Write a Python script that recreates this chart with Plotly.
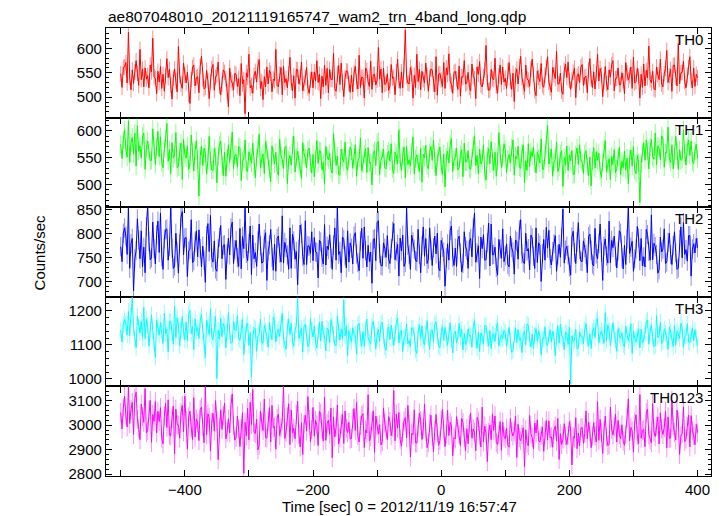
import plotly.graph_objects as go
from plotly.subplots import make_subplots

TITLE = "ae807048010_20121119165747_wam2_trn_4band_long.qdp"
X_TITLE = "Time [sec] 0 = 2012/11/19 16:57:47"
Y_TITLE = "Counts/sec"
PANEL_NAMES = ["TH0", "TH1", "TH2", "TH3", "TH0123"]
X_TICKS = [-500, -400, -300, -200, -100, 0, 100, 200, 300, 400]
X_TICK_LABELS = ["", "\u2212400", "", "\u2212200", "", "0", "", "200", "", "400"]

# bin start times (s), 2 s bins
TIME = list(range(-500, 401, 2))

TH0 = [int(v) for v in """
548 520 561 562 571 529 633 541 515 556 528 552 575 549 524 598 536 558 521 560 537 544 519 566 552 621 542 538 507 553
531 563 518 547 512 544 579 540 557 525 496 539 558 533 511 604 545 527 518 570 546 529 551 506 487 536 561 566 523 540
542 509 563 584 538 517 520 555 534 497 531 559 567 514 541 546 572 522 505 527 556 551 538 512 480 560 535 529 515 549
547 522 538 503 569 527 536 466 550 541 588 519 524 508 545 553 531 563 577 518 532 495 542 521 562 527 555 549 511 537
534 598 524 521 547 561 505 563 530 538 519 548 582 530 513 544 498 557 556 527 540 572 513 528 540 561 519 508 535 552
519 552 533 575 530 547 497 543 521 566 524 559 509 557 536 536 590 518 512 548 565 526 570 531 501 539 554 553 528 510
545 511 549 563 532 517 586 520 541 540 498 560 555 531 522 574 516 546 547 525 535 602 537 558 509 559 526 528 548 514
523 567 539 541 505 552 578 534 518 552 519 563 638 543 529 527 561 548 498 545 520 588 532 557 515 553 536 529 570 544
512 540 558 556 527 511 583 504 547 549 535 522 571 518 560 546 589 533 526 508 551 553 537 516 564 502 542 541 575 527
529 551 520 513 568 543 538 497 562 547 573 525 521 542 555 606 530 514 515 557 538 536 580 523 508 544 566 526 562 531
539 518 554 571 533 516 549 491 545 558 527 563 584 541 521 512 566 537 535 522 558 578 547 513 503 554 540 532 569 524
520 545 561 583 531 519 510 561 546 538 594 527 527 549 512 506 555 568 540 572 534 516 535 551 560 499 543 548 530 562
567 524 541 543 509 556 579 537 520 552 517 548 588 533 559 546 501 532 563 528 515 556 541 567 575 513 538 539 560 525
526 550 534 507 571 549 535 544 562 518 582 529 532 559 543 498 547 520 568 523 555 540 605 536 529 553 517 515 562 546
536 578 527 521 548 559 596 530 544 557 512 565 566 541 523 610 527 550 551 574 532 519 545 561 583 534 519 560 522 547
540
""".split()]

TH1 = [int(v) for v in """
575 548 583 602 566 551 619 541 578 588 557 596 534 610 562 572 549 590 596 528 567 581 563 544 545 604 571 537 570 599
552 589 540 531 567 585 614 543 565 520 578 549 556 597 531 533 561 577 509 584 556 549 572 528 538 592 560 525 563 582
546 478 553 571 535 568 558 519 545 590 544 527 526 567 552 503 553 574 581 537 516 560 515 548 574 541 563 598 529 555
556 532 571 569 507 543 548 583 526 524 561 550 540 577 533 512 550 566 594 531 547 557 520 580 566 543 529 505 572 552
538 560 524 517 585 553 547 529 569 571 501 545 554 536 573 590 523 550 562 545 530 511 578 557 549 531 564 568 540 521
556 514 547 582 539 563 562 527 541 500 571 552 546 558 528 521 595 560 535 553 518 517 566 549 542 579 533 526 548 570
562 530 551 574 515 544 549 587 525 538 556 567 522 569 540 541 499 558 563 535 578 580 518 546 551 566 531 529 557 562
543 576 529 520 560 553 538 602 541 527 553 570 512 571 537 546 534 561 589 519 548 555 541 524 567 504 556 550 573 535
529 559 571 545 583 539 516 548 560 570 533 519 557 495 550 562 540 574 586 524 545 551 568 527 531 556 565 514 577 542
542 563 530 528 550 572 591 535 554 519 566 538 545 574 521 508 553 567 538 580 543 526 560 515 543 597 558 531 549 576
565 522 547 556 540 569 583 517 553 548 571 532 530 559 574 503 544 526 576 533 561 552 569 539 521 561 548 540 585 528
528 554 573 611 538 550 566 515 542 547 579 524 532 557 563 496 550 537 572 526 555 544 563 518 519 555 568 537 574 546
541 520 557 563 534 516 551 497 544 569 530 561 545 558 525 513 540 566 582 524 538 548 509 552 537 565 522 529 550 569
518 543 531 562 527 549 501 548 564 534 571 526 520 554 541 466 539 558 578 545 583 562 529 570 584 551 547 596 537 572
568 546 591 585 532 560 559 607 548 541 574 529 553 590 562 528 565 545 547 602 558 536 571 583 554 581 543 539 562 575
548
""".split()]

TH2 = [int(v) for v in """
773 742 801 812 795 757 856 728 779 790 681 748 765 831 787 748 806 731 772 719 815 858 784 746 750 824 769 737 798 826
761 843 752 726 789 808 810 745 773 857 770 728 733 801 762 718 779 834 846 756 791 792 711 764 768 829 740 744 783 806
752 808 769 731 774 745 699 796 821 763 838 750 741 785 727 722 769 793 817 748 776 777 705 758 791 756 812 824 738 767
786 750 732 811 727 794 769 853 759 744 780 816 715 797 748 761 732 785 820 775 739 741 789 802 703 764 777 809 751 724
778 722 790 795 760 741 837 739 782 771 756 726 812 728 799 785 747 763 694 768 818 801 753 736 827 736 775 774 759 804
744 792 762 761 708 786 783 751 737 819 735 774 767 798 749 726 776 812 745 858 757 763 719 793 788 754 729 806 741 781
770 737 795 802 758 740 723 785 811 749 814 765 731 776 742 762 697 788 790 744 823 827 759 734 733 781 770 751 796 747
738 769 805 821 746 763 778 712 791 764 797 732 740 855 776 757 726 797 783 768 744 742 809 757 719 775 814 753 790 738
747 812 766 734 771 795 758 801 729 723 786 772 762 691 750 779 745 807 816 751 734 770 732 788 795 760 721 738 804 773
766 728 784 790 752 812 843 741 760 775 707 793 769 798 745 746 781 822 733 820 756 757 772 730 714 788 768 749 810 742
754 779 736 731 795 771 762 716 787 784 747 808 829 758 741 738 801 764 769 725 797 791 753 728 812 740 781 776 701 759
788 745 813 770 807 748 735 763 779 796 722 756 778 751 792 851 739 766 774 756 731 714 793 805 761 738 783 823 767 743
742 785 771 757 719 794 799 766 737 733 811 758 748 780 820 762 703 774 789 754 739 826 740 786 771 795 752 729 764 806
801 750 727 776 736 789 857 759 772 784 722 748 768 815 791 744 790 733 752 731 809 798 763 745 839 746 780 773 757 718
725 793 762 768 810 738 741 782 801 757 736 775 804 761 726 729 788 814 750 823 757 767 743 796 796 712 768 779 760 790
771
""".split()]

TH3 = [int(v) for v in """
1143 1108 1161 1175 1162 1129 1198 1127 1184 1239 1151 1116 1092 1184 1152 1135 1169 1121 1210 1118 1176 1157 1096 1145 1188 1142 1109 1063 1173 1155
1128 1165 1141 1104 1193 1133 1147 1079 1168 1170 1136 1102 1214 1121 1179 1158 1097 1146 1183 1140 1115 1167 1112 1190 1201 1133 1154 1086 1176 1139
1150 1119 1172 1189 1137 1110 1062 1172 1149 1131 1206 1125 1115 1160 1183 1001 1143 1117 1178 1124 1162 1153 1091 1138 1195 1138 1105 1107 1168 1144
1142 1186 1120 1113 1155 1174 1072 1129 1157 1164 1098 1136 1005 1120 1151 1147 1081 1127 1132 1176 1106 1104 1158 1141 1126 1093 1166 1139 1115 1182
1171 1108 1137 1146 1125 1161 1193 1117 1099 1087 1152 1175 1130 1163 1112 1096 1141 1159 1236 1119 1134 1148 1079 1153 1160 1134 1095 1102 1177 1143
1123 1155 1106 1090 1138 1167 1111 1169 1132 1128 1082 1149 1144 1106 1174 1157 1131 1100 1097 1185 1139 1114 1147 1118 1232 1126 1156 1069 1142 1124
1109 1150 1131 1128 1073 1158 1163 1117 1097 1139 1095 1145 1176 1121 1108 1102 1154 1170 1134 1088 1127 1146 1110 1161 1167 1125 1093 1084 1137 1152
1115 1158 1124 1098 1132 1166 1179 1105 1138 1143 1081 1119 1126 1161 1103 1112 1094 1150 1148 1129 1085 1075 1138 1159 1119 1156 1111 1100 1133 1171
1121 1087 1142 1144 1109 1160 1168 1125 1096 1091 1137 1153 1113 1152 1118 1099 1130 1165 1116 1076 1133 1140 1106 1122 1163 1123 1146 1085 1134 1101
1108 1147 1126 1127 1093 1154 1171 1114 1090 1138 1080 1135 1124 1103 1157 1155 1118 1096 1142 1089 1130 1131 1110 1149 1164 1097 1116 1129 1119 1143
1136 1095 1123 1151 1112 1078 1083 1128 1150 1107 1145 1114 1120 1077 1132 1139 1101 1161 1158 1116 1094 1132 1090 1127 1148 1111 1140 1126 1071 1117
1117 1153 1102 1098 1130 1144 1109 1140 1121 1068 1123 1156 1105 1161 1129 1119 1085 1137 1134 1101 1152 985 1127 1108 1114 1146 1088 1092 1137 1125
1124 1103 1145 1163 1118 1096 1132 1089 1141 1150 1121 1172 1178 1107 1130 1141 1127 1104 1195 1112 1159 1143 1098 1135 1165 1130 1113 1081 1148 1126
1119 1136 1100 1094 1154 1131 1113 1129 1162 1075 1140 1118 1108 1125 1147 1091 1146 1106 1116 1133 1168 1173 1102 1139 1158 1122 1095 1097 1185 1121
1128 1166 1104 1110 1147 1135 1121 1087 1152 1139 1115 1096 1157 1099 1141 1134 1118 1163 1150 1093 1124 1127 1162 1109 1106 1131 1148 1112 1144 1118
1098
""".split()]

TH0123 = [int(v) for v in """
3052 2985 3071 3118 3041 2993 3160 3007 3064 3093 2962 3110 3135 3024 2988 2941 3086 3035 3012 3150 2969 2978 3061 3102 2930 3044 3016 3097 2968 3057
3015 3072 2947 2924 3038 3089 2991 3104 2960 2956 3029 3078 2883 3066 3003 3001 2947 3052 3081 2973 3119 3020 2902 3034 3057 2989 2941 3113 2952 3026
3008 2937 3065 3074 2995 2928 3160 2961 3047 3032 2894 3011 3049 2976 3101 3018 2859 2992 3063 2983 3039 3091 2944 2972 3026 2969 3084 3128 2998 2939
2951 3037 2984 2912 2985 3051 2803 3012 2956 3069 2940 3094 3003 3146 2971 2966 3025 2899 2918 3058 3013 2979 3107 2950 2947 3016 3072 2931 3081 2990
2994 2902 3029 3046 2958 2989 3017 3160 2946 2973 3035 3088 2921 3062 2968 2987 2945 3043 3098 2962 2911 3010 2880 3004 3041 2976 3117 3024 2933 2982
3073 2955 3020 3001 2917 3056 3049 2982 2935 3115 2938 3007 3020 2963 3070 2867 3034 2952 2991 3083 2924 2948 3006 3044 2925 3058 2987 2970 3012 2943
2946 3027 3068 2978 3094 2957 2931 2999 3040 3047 2909 2981 2968 3125 2936 2953 3014 3059 2889 3038 2998 2965 3002 2919 2932 3071 3009 2980 2941 3035
3015 2957 2992 3142 2936 3046 2988 3052 2943 2914 2972 3018 3031 2948 3081 3004 2870 2967 2961 3063 2928 2927 2993 3050 3019 2942 2984 3087 2975 2908
2930 3008 3041 2955 2891 2977 3044 2969 2918 2937 3021 3065 2983 2912 2963 3061 2958 3012 2997 2875 2950 2944 3035 2987 2962 2916 3028 3011 2950 2896
2986 2924 3004 3049 2947 2985 2971 2895 3032 3016 2958 2911 3074 2932 2996 2966 2851 2970 3001 2940 3047 2979 3038 2929 2921 2963 3015 2897 3012 2954
2945 2988 2917 2910 3027 2973 2956 2975 3036 2868 3004 2949 2937 2962 2990 2829 2981 2926 2916 3040 2965 2949 2903 3009 2968 3022 2936 2931 2959 2992
2893 2977 3019 2939 3018 2948 2952 2910 2981 2996 2935 3028 2860 2965 2921 2943 3006 2957 2921 2958 3014 2982 2837 2953 2947 3031 2904 2968 2915 2989
2990 2926 2967 3058 2944 3012 2973 2908 2955 3011 2957 2931 3096 2938 3024 2969 2884 2976 3037 2952 2917 2921 3074 2983 2960 2993 3046 2931 3020 2962
2945 3002 2935 2918 2964 3029 3108 2936 2991 2977 2890 3013 3043 2958 2924 3125 2947 2978 2983 2912 3051 3066 2961 2940 2928 3089 2972 2954 2996 3034
2923 3051 2985 2962 2989 3057 2907 3034 2946 2948 3102 2999 2971 2939 3062 3017 2880 2956 2966 3075 2933 2943 2995 3041 2911 3039 2978 2957 2920 3003
2969
""".split()]

# typical 1-sigma error per 2 s bin (counts/sec)
ERRORS = [16, 17, 20, 24, 39]

SERIES = [TH0, TH1, TH2, TH3, TH0123]
COLORS = ["#ff0000", "#00ff00", "#0000ff", "#00ffff", "#ff00ff"]
ERR_COLORS = ["rgba(255,0,0,0.45)", "rgba(0,255,0,0.45)", "rgba(0,0,255,0.45)",
              "rgba(0,255,255,0.45)", "rgba(255,0,255,0.45)"]
Y_RANGES = [[458, 642], [457, 625], [669, 855], [978, 1241], [2792, 3159]]
Y_DTICK = [50, 50, 50, 100, 100]
Y_MINOR = [10, 10, 10, 20, 20]
X_RANGE = [-523, 421]

FONT = "Liberation Sans, Arial, Helvetica, sans-serif"

fig = make_subplots(rows=5, cols=1, shared_xaxes=False, vertical_spacing=0)

for i, vals in enumerate(SERIES):
    n = min(len(vals), len(TIME))
    fig.add_trace(go.Scatter(
        x=TIME[:n], y=vals[:n], mode="lines",
        line=dict(color=COLORS[i], width=1),
        error_y=dict(type="constant", value=ERRORS[i], color=ERR_COLORS[i],
                     thickness=1, width=0),
        showlegend=False, hoverinfo="skip"),
        row=i + 1, col=1)
    fig.update_yaxes(
        range=Y_RANGES[i], dtick=Y_DTICK[i], tick0=0,
        ticks="inside", ticklen=6, tickwidth=1, tickcolor="black",
        minor=dict(dtick=Y_MINOR[i], tick0=0, ticks="inside", ticklen=3,
                   tickcolor="black", tickwidth=1, showgrid=False),
        showline=True, linecolor="black", linewidth=1.2, mirror="ticks",
        showgrid=False, zeroline=False,
        tickfont=dict(family=FONT, size=15, color="black"),
        row=i + 1, col=1)
    fig.update_xaxes(
        range=X_RANGE, tickmode="array", tickvals=X_TICKS,
        ticktext=X_TICK_LABELS,
        ticks="inside", ticklen=6, tickwidth=1, tickcolor="black",
        showline=True, linecolor="black", linewidth=1.2, mirror="ticks",
        showgrid=False, zeroline=False,
        showticklabels=(i == 4),
        tickfont=dict(family=FONT, size=15, color="black"),
        row=i + 1, col=1)

# panel labels
for i, name in enumerate(PANEL_NAMES):
    yref = "y domain" if i == 0 else f"y{i + 1} domain"
    xref = "x domain" if i == 0 else f"x{i + 1} domain"
    fig.add_annotation(text=name, xref=xref, yref=yref, x=0.99, y=1,
                       xanchor="right", yanchor="top", yshift=-1,
                       showarrow=False,
                       font=dict(family=FONT, size=15, color="black"))

fig.add_annotation(text=TITLE, xref="paper", yref="paper", x=0, y=1,
                   xanchor="left", yanchor="bottom", yshift=1, showarrow=False,
                   font=dict(family=FONT, size=15.5, color="black"))
fig.add_annotation(text=Y_TITLE, xref="paper", yref="paper", x=-0.11, y=0.5,
                   xanchor="center", yanchor="middle", textangle=-90,
                   showarrow=False,
                   font=dict(family=FONT, size=15, color="black"))
fig.add_annotation(text=X_TITLE, xref="paper", yref="paper", x=0.485, y=0,
                   xanchor="center", yanchor="top", yshift=-20, showarrow=False,
                   font=dict(family=FONT, size=15, color="black"))

# page body has an 8 px margin, so the figure is 8 px smaller each way
fig.update_layout(
    width=716, height=508,
    margin=dict(l=98, r=13, t=20, b=40),
    paper_bgcolor="white", plot_bgcolor="white",
    font=dict(family=FONT, size=15, color="black"),
)

fig.write_html("out.html")
